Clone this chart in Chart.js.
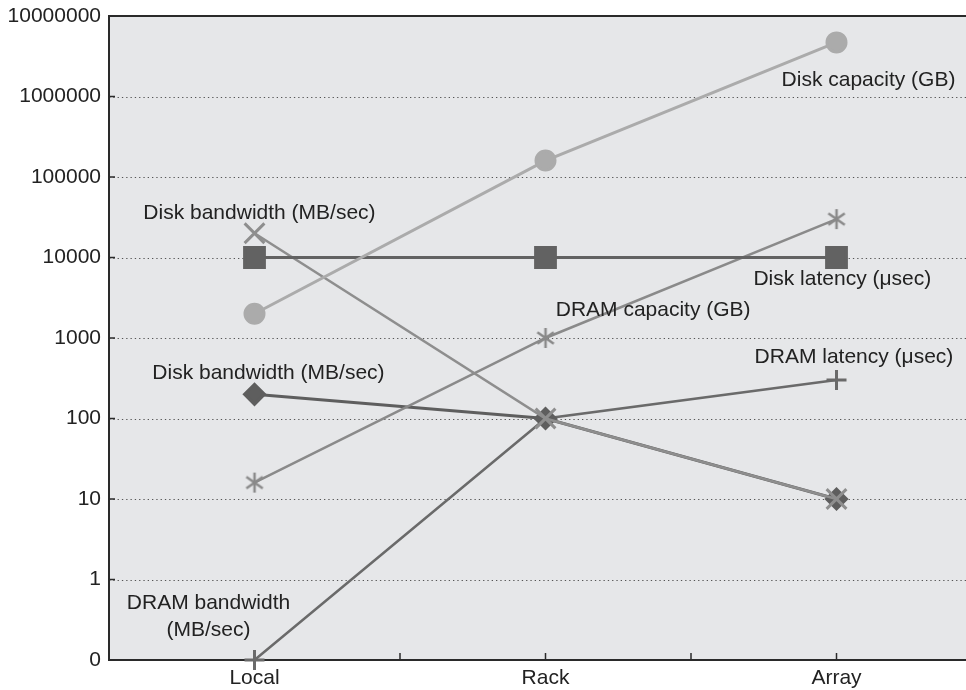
<!DOCTYPE html>
<html>
<head>
<meta charset="utf-8">
<script src="https://cdn.jsdelivr.net/npm/chart.js@4.4.1/dist/chart.umd.min.js"></script>
<style>
  html, body { margin: 0; padding: 0; background: #fff; }
  #wrap { width: 966px; height: 690px; }
</style>
</head>
<body>
<div id="wrap"><canvas id="memChart" width="966" height="690"></canvas></div>
<script>
const categories = ["Local", "Rack", "Array"];

const diskCapacity = [2000, 160000, 4700000];
const diskLatency = [10000, 10000, 10000];
const diskBandwidthX = [20000, 100, 10];
const dramCapacity = [16, 1000, 30000];
const diskBandwidthDiamond = [200, 100, 10];
const dramLatency = [0.1, 100, 300];

const yTicks = [0.1, 1, 10, 100, 1000, 10000, 100000, 1000000, 10000000];
const yTickLabels = ["0", "1", "10", "100", "1000", "10000", "100000", "1000000", "10000000"];
const xTicks = [0, 0.5, 1, 1.5, 2];

// text labels placed in data units (x = category index, y = value)
const labelTexts = ["Disk capacity (GB)", "Disk bandwidth (MB/sec)", "Disk latency (\u03bcsec)", "DRAM capacity (GB)",
  "DRAM latency (\u03bcsec)", "Disk bandwidth (MB/sec)", "DRAM bandwidth", "(MB/sec)"];
const labelX = [2.11, 0.017, 2.02, 1.37, 2.06, 0.048, -0.158, -0.158];
const labelY = [1600000, 35700, 5400, 2230, 581, 367, 0.51, 0.236];

const FONT = '"Liberation Sans", Arial, sans-serif';

function toPoints(values) {
  return categories.map((c, i) => ({ x: i, y: values[i] }));
}

function makeAsterisk(size, color) {
  const c = document.createElement("canvas");
  c.width = size;
  c.height = size;
  const g = c.getContext("2d");
  g.strokeStyle = color;
  g.lineWidth = 2.5;
  g.translate(size / 2, size / 2);
  const r = size / 2 - 1;
  [90, 35, -35].forEach((deg) => {
    const rad = deg * Math.PI / 180;
    g.beginPath();
    g.moveTo(-r * Math.cos(rad), -r * Math.sin(rad));
    g.lineTo(r * Math.cos(rad), r * Math.sin(rad));
    g.stroke();
  });
  return c;
}

const framePlugin = {
  id: "frame",
  beforeDraw(chart) {
    const { ctx, chartArea: a } = chart;
    ctx.save();
    ctx.fillStyle = "#e6e7e9";
    ctx.fillRect(a.left, a.top, a.right - a.left, a.bottom - a.top);
    ctx.restore();
  },
  beforeDatasetsDraw(chart) {
    const { ctx, chartArea: a, scales } = chart;
    ctx.save();
    // dotted grid
    ctx.strokeStyle = "#555";
    ctx.lineWidth = 1.2;
    ctx.setLineDash([1.3, 3]);
    yTicks.slice(1, -1).forEach((v) => {
      const y = Math.round(scales.y.getPixelForValue(v)) + 0.5;
      ctx.beginPath();
      ctx.moveTo(a.left, y);
      ctx.lineTo(a.right, y);
      ctx.stroke();
    });
    ctx.setLineDash([]);
    // frame
    ctx.strokeStyle = "#2a2a2a";
    ctx.lineWidth = 2;
    ctx.beginPath();
    ctx.moveTo(a.right, a.top);
    ctx.lineTo(a.left, a.top);
    ctx.lineTo(a.left, a.bottom);
    ctx.lineTo(a.right, a.bottom);
    ctx.stroke();
    // inner ticks
    ctx.lineWidth = 1.5;
    yTicks.forEach((v) => {
      const y = scales.y.getPixelForValue(v);
      ctx.beginPath();
      ctx.moveTo(a.left, y);
      ctx.lineTo(a.left + 6, y);
      ctx.stroke();
    });
    xTicks.forEach((v) => {
      const x = scales.x.getPixelForValue(v);
      ctx.beginPath();
      ctx.moveTo(x, a.bottom);
      ctx.lineTo(x, a.bottom - 7);
      ctx.stroke();
    });
    ctx.restore();
  },
  afterDatasetsDraw(chart) {
    const { ctx, scales } = chart;
    ctx.save();
    ctx.font = "21px " + FONT;
    ctx.fillStyle = "#222";
    ctx.textAlign = "center";
    ctx.textBaseline = "middle";
    labelTexts.forEach((t, i) => {
      ctx.fillText(t, scales.x.getPixelForValue(labelX[i]), scales.y.getPixelForValue(labelY[i]));
    });
    ctx.restore();
  }
};

const ctx = document.getElementById("memChart").getContext("2d");
const chart = new Chart(ctx, {
  type: "line",
  data: {
    datasets: [
      {
        label: "Disk capacity (GB)",
        data: toPoints(diskCapacity),
        borderColor: "#ababab",
        backgroundColor: "#ababab",
        borderWidth: 3,
        pointStyle: "circle",
        pointRadius: 9.5,
      },
      {
        label: "Disk latency (usec)",
        data: toPoints(diskLatency),
        borderColor: "#626262",
        backgroundColor: "#626262",
        borderWidth: 3,
        pointStyle: "rect",
        pointRadius: 14,
      },
      {
        label: "Disk bandwidth x",
        data: toPoints(diskBandwidthX),
        borderColor: "#8e8e8e",
        backgroundColor: "#8e8e8e",
        borderWidth: 2.5,
        pointStyle: "crossRot",
        pointRadius: 14,
        pointBorderWidth: 3,
      },
      {
        label: "DRAM capacity (GB)",
        data: toPoints(dramCapacity),
        borderColor: "#8a8a8a",
        backgroundColor: "#8a8a8a",
        borderWidth: 2.5,
        pointStyle: makeAsterisk(22, "#8a8a8a"),
      },
      {
        label: "Disk bandwidth diamond",
        data: toPoints(diskBandwidthDiamond),
        borderColor: "#5e5e5e",
        backgroundColor: "#5e5e5e",
        borderWidth: 3,
        pointStyle: "rectRot",
        pointRadius: 10,
      },
      {
        label: "DRAM latency (usec)",
        data: toPoints(dramLatency),
        borderColor: "#6a6a6a",
        backgroundColor: "#6a6a6a",
        borderWidth: 2.5,
        pointStyle: "cross",
        pointRadius: 10,
        pointBorderWidth: 3,
      },
    ],
  },
  options: {
    responsive: false,
    animation: false,
    devicePixelRatio: 1,
    clip: false,
    layout: { autoPadding: false, padding: { left: 0, top: 16, right: 0, bottom: 0 } },
    plugins: { legend: { display: false }, tooltip: { enabled: false } },
    elements: { line: { tension: 0 } },
    scales: {
      x: {
        type: "linear",
        min: -0.5,
        max: 2.445,
        grid: { display: false, drawTicks: false },
        border: { display: false },
        afterBuildTicks: (scale) => { scale.ticks = xTicks.map((v) => ({ value: v })); },
        afterFit: (scale) => {
          scale.height = 30;
          scale.paddingLeft = 0;
          scale.paddingRight = 0;
        },
        ticks: {
          padding: 6,
          maxRotation: 0,
          autoSkip: false,
          color: "#222",
          font: { family: FONT, size: 21 },
          callback: (v) => (Number.isInteger(v) ? categories[v] : ""),
        },
      },
      y: {
        type: "logarithmic",
        min: 0.1,
        max: 10000000,
        grid: { display: false, drawTicks: false },
        border: { display: false },
        afterBuildTicks: (scale) => { scale.ticks = yTicks.map((v) => ({ value: v })); },
        afterFit: (scale) => {
          scale.width = 109;
          scale.paddingTop = 0;
          scale.paddingBottom = 0;
        },
        ticks: {
          padding: 8,
          autoSkip: false,
          color: "#222",
          font: { family: FONT, size: 21 },
          callback: (v) => yTickLabels[yTicks.indexOf(v)],
        },
      },
    },
  },
  plugins: [framePlugin],
});
</script>
</body>
</html>
